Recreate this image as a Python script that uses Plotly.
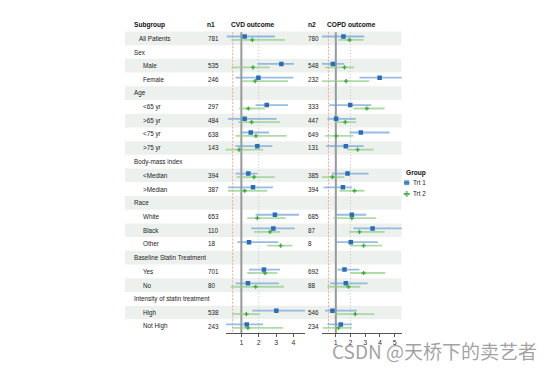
import plotly.graph_objects as go

# ---------------- data ----------------
rows = ["All Patients", "Sex", "Male", "Female", "Age", "<65 yr", ">65 yr", "<75 yr", ">75 yr",
        "Body-mass index", "<Median", ">Median", "Race", "White", "Black", "Other",
        "Baseline Statin Treatment", "Yes", "No", "Intensity of statin treatment", "High", "Not High"]
row_level = [1, 0, 2, 2, 0, 2, 2, 2, 2, 0, 2, 2, 0, 2, 2, 2, 0, 2, 2, 0, 2, 2]

n1 = [781, None, 535, 246, None, 297, 484, 638, 143, None, 394, 387, None, 653, 110, 18,
      None, 701, 80, None, 538, 243]
n2 = [780, None, 548, 232, None, 333, 447, 649, 131, None, 385, 394, None, 685, 87, 8,
      None, 692, 88, None, 546, 234]

# CVD outcome, Trt 1
cvd_t1_est = [1.19, None, 3.30, 1.98, None, 2.46, 1.19, 1.54, 1.92, None, 1.40, 1.67, None, 2.93, 2.84, 1.44, None, 2.30, 1.38, None, 3.01, 1.31]
cvd_t1_lo = [0.16, None, 1.92, 0.67, None, 1.82, 0.23, 1.00, 0.67, None, 0.67, 0.23, None, 1.82, 1.57, 0.77, None, 1.44, 0.67, None, 1.63, 0.10]
cvd_t1_hi = [2.93, None, 4.03, 3.99, None, 3.68, 3.03, 2.59, 2.78, None, 1.92, 2.82, None, 4.31, 4.07, 3.13, None, 3.22, 3.16, None, 4.75, 2.25]
# CVD outcome, Trt 2
cvd_t2_est = [1.63, None, 1.67, 1.79, None, 1.40, 1.59, 1.84, 0.87, None, 1.73, 1.19, None, 1.92, 2.65, 3.26, None, 2.36, 1.82, None, 1.29, 1.38]
cvd_t2_lo = [0.43, None, 0.43, 1.06, None, 0.87, 0.81, 0.67, 0.06, None, 0.73, 0.23, None, 1.34, 1.73, 2.49, None, 1.34, 0.39, None, 0.48, 0.48]
cvd_t2_hi = [3.51, None, 2.63, 3.68, None, 2.34, 3.22, 3.61, 2.26, None, 2.92, 2.49, None, 3.55, 3.22, 3.93, None, 3.07, 3.45, None, 2.07, 3.39]

# COPD outcome, Trt 1
copd_t1_est = [1.52, None, 0.80, 3.98, None, 1.98, 1.02, 2.70, 1.68, None, 1.80, 1.48, None, 2.09, 3.50, 2.02, None, 1.59, 1.68, None, 0.77, 1.34]
copd_t1_lo = [0.05, None, 0.05, 2.61, None, 0.55, 0.43, 1.93, 0.34, None, 0.73, 0.16, None, 1.02, 2.20, 1.02, None, 1.11, 0.61, None, 0.27, 0.43]
copd_t1_hi = [2.93, None, 1.57, 5.50, None, 3.41, 2.36, 4.66, 2.89, None, 3.23, 2.09, None, 3.07, 5.50, 3.86, None, 2.61, 3.16, None, 2.43, 2.09]
# COPD outcome, Trt 2
copd_t2_est = [1.93, None, 1.59, 1.70, None, 3.11, 1.64, 1.02, 2.48, None, 0.77, 2.27, None, 2.09, 2.61, 2.89, None, 2.89, 1.86, None, 2.32, 1.18]
copd_t2_lo = [1.18, None, 0.27, 0.05, None, 2.20, 0.95, 0.27, 1.80, None, 0.05, 1.25, None, 0.84, 1.91, 1.98, None, 1.98, 0.43, None, 0.95, 0.11]
copd_t2_hi = [2.89, None, 2.25, 3.27, None, 4.32, 2.39, 2.20, 3.57, None, 1.57, 2.95, None, 3.75, 4.32, 4.14, None, 4.36, 2.66, None, 3.61, 2.09]

cvd_ticks = [1, 2, 3, 4]
copd_ticks = [1, 2, 3, 4, 5]
group_names = ["Trt 1", "Trt 2"]
headers = ["Subgroup", "n1", "CVD outcome", "n2", "COPD outcome"]
ref_lines = [0.5, 1, 2]

# ---------------- layout helpers ----------------
W, H = 554, 369
ROW0, STEP = 38.3, 13.71


def py2idx(p):
    return (p - ROW0) / STEP


def pxp(p):
    return p / W


FONT = "Liberation Sans, Arial, sans-serif"
BLUE, BLUE_CI = "#2b6cb5", "rgba(110,160,215,0.7)"
GREEN, GREEN_CI = "#43a843", "rgba(140,205,130,0.7)"

fig = go.Figure()


def add_series(est, lo, hi, xaxis, offset, color, ci_color, symbol, size, name):
    xs, ys, ep, em = [], [], [], []
    for i, (e, l, h) in enumerate(zip(est, lo, hi)):
        if e is None:
            continue
        xs.append(e)
        ys.append(i + offset)
        ep.append(h - e)
        em.append(e - l)
    fig.add_trace(go.Scatter(
        x=xs, y=ys, xaxis=xaxis, yaxis="y", mode="markers", name=name, showlegend=False,
        marker=dict(symbol=symbol, size=size, color=color, line=dict(width=0)),
        error_x=dict(type="data", symmetric=False, array=ep, arrayminus=em,
                     color=ci_color, thickness=1.8, width=0)))


add_series(cvd_t1_est, cvd_t1_lo, cvd_t1_hi, "x", -0.13, BLUE, BLUE_CI, "square", 4.5, group_names[0])
add_series(cvd_t2_est, cvd_t2_lo, cvd_t2_hi, "x", 0.12, GREEN, GREEN_CI, "cross", 3.5, group_names[1])
add_series(copd_t1_est, copd_t1_lo, copd_t1_hi, "x2", -0.13, BLUE, BLUE_CI, "square", 4.5, group_names[0])
add_series(copd_t2_est, copd_t2_lo, copd_t2_hi, "x2", 0.12, GREEN, GREEN_CI, "cross", 3.5, group_names[1])

shapes = []
# alternating shaded bands
for i in range(len(rows)):
    if i % 2 == 0:
        shapes.append(dict(type="rect", xref="paper", yref="y", x0=pxp(125), x1=pxp(401.5),
                           y0=i - 0.5, y1=i + 0.5, fillcolor="#edf1ee", line=dict(width=0),
                           layer="below"))
# reference lines
y_bot = py2idx(333)
for xr in ["x", "x2"]:
    shapes.append(dict(type="line", xref=xr, yref="y", x0=ref_lines[2], x1=ref_lines[2],
                       y0=-0.45, y1=y_bot, line=dict(color="#c4c4c4", width=1, dash="1px,2px"), layer="below"))
    shapes.append(dict(type="line", xref=xr, yref="y", x0=ref_lines[0], x1=ref_lines[0],
                       y0=-0.45, y1=y_bot, line=dict(color="#f2a39c", width=1, dash="2px,1.5px"), layer="below"))
    shapes.append(dict(type="line", xref=xr, yref="y", x0=ref_lines[1], x1=ref_lines[1],
                       y0=-0.45, y1=y_bot, line=dict(color="#999999", width=2), layer="below"))

ann = []
TXT = dict(family=FONT, size=6.3, color="#222")
HDR = dict(family=FONT, size=6.6, color="#111")
hdr_x = [131.5, 205, 229, 306, 325]
for h, x in zip(headers, hdr_x):
    ann.append(dict(text="<b>%s</b>" % h, x=pxp(x), y=-1, xref="paper", yref="y",
                    xanchor="left", yanchor="middle", showarrow=False, font=HDR))
indent = {0: 131.5, 1: 137, 2: 140.5}
for i, r in enumerate(rows):
    ann.append(dict(text=r, x=pxp(indent[row_level[i]]), y=i, xref="paper", yref="y",
                    xanchor="left", yanchor="middle", showarrow=False, font=TXT))
    if n1[i] is not None:
        ann.append(dict(text=str(n1[i]), x=pxp(205.5), y=i, xref="paper", yref="y",
                        xanchor="left", yanchor="middle", showarrow=False, font=TXT))
    if n2[i] is not None:
        ann.append(dict(text=str(n2[i]), x=pxp(306), y=i, xref="paper", yref="y",
                        xanchor="left", yanchor="middle", showarrow=False, font=TXT))

# manual legend
leg_y = [py2idx(182.7), py2idx(194)]
ann.append(dict(text="<b>Group</b>", x=pxp(404), y=py2idx(173.5), xref="paper", yref="y",
                xanchor="left", yanchor="middle", showarrow=False, font=HDR))
for k, (nm, col, sym, sz) in enumerate([(group_names[0], BLUE, "square", 5), (group_names[1], GREEN, "cross", 5)]):
    fig.add_trace(go.Scatter(x=[0.2, 0.335, 0.47], y=[leg_y[k]] * 3, xaxis="x3", yaxis="y",
                             mode="lines+markers", showlegend=False, hoverinfo="skip",
                             line=dict(color=col, width=1.3),
                             marker=dict(symbol=sym, size=[0, sz, 0], color=col, line=dict(width=0))))
    ann.append(dict(text=nm, x=pxp(410.5), y=leg_y[k], xref="paper", yref="y",
                    xanchor="left", yanchor="middle", showarrow=False, font=TXT))

# watermark
ann.append(dict(text="CSDN @天桥下的卖艺者", x=pxp(330), y=1 - 350 / H, xref="paper", yref="paper",
                xanchor="left", yanchor="middle", showarrow=False,
                font=dict(family="Noto Sans CJK SC, sans-serif", size=19, color="rgba(120,120,120,0.7)")))

axcommon = dict(showgrid=False, zeroline=False, showline=True, linecolor="#555", linewidth=1,
                ticks="outside", ticklen=3, tickcolor="#555", tickwidth=1,
                tickfont=dict(family=FONT, size=7, color="#333"), anchor="y", fixedrange=True)

fig.update_layout(
    width=W, height=H, margin=dict(l=0, r=0, t=0, b=0),
    paper_bgcolor="white", plot_bgcolor="rgba(0,0,0,0)",
    showlegend=False,
    xaxis=dict(domain=[pxp(225.7), pxp(305)], range=[0.1, 4.66], tickvals=cvd_ticks, **axcommon),
    xaxis2=dict(domain=[pxp(321.7), pxp(401.7)], range=[0.04, 5.48], tickvals=copd_ticks, **axcommon),
    xaxis3=dict(domain=[pxp(400), pxp(420)], range=[0, 1], visible=False, anchor="y"),
    yaxis=dict(domain=[1 - 333 / H, 1 - 12 / H], range=[py2idx(333), py2idx(12)], visible=False,
               fixedrange=True),
    shapes=shapes, annotations=ann,
)

fig.write_html("out.html", config={"displayModeBar": False, "staticPlot": True},
               post_script="document.body.style.margin='0';document.body.style.padding='0';")
